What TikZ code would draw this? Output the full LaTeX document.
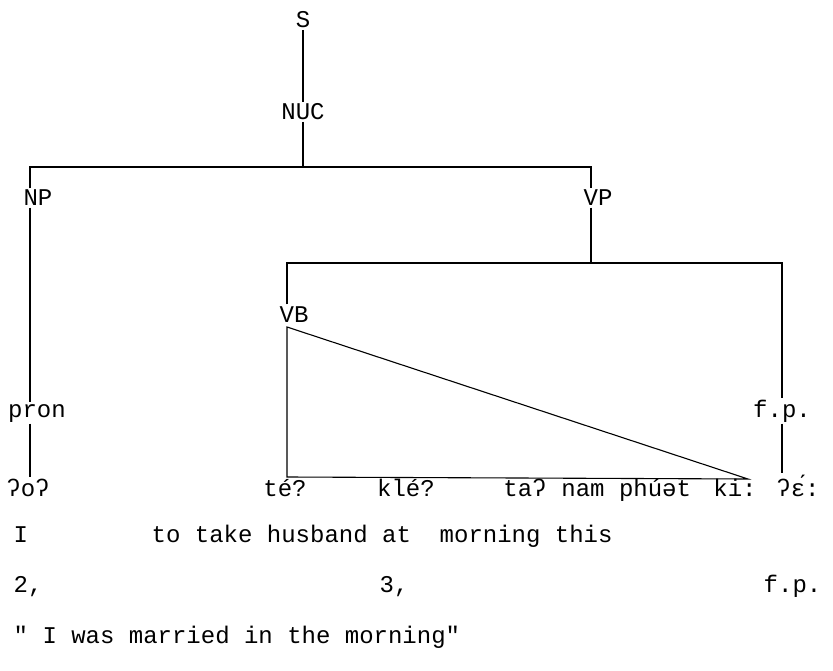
\documentclass[tikz,border=0pt]{standalone}
\usepackage{fontspec}
\setmonofont{Liberation Mono}
\usepackage{tikz}
\usetikzlibrary{positioning}

\begin{document}
\begin{tikzpicture}[x=1pt, y=-1pt,
    % Define styles for the labels and branches
        lab/.style={font=\ttfamily\fontsize{24}{27}\selectfont, inner sep=1.5pt, anchor=base},
        word/.style={lab},
        line/.style={lab, anchor=base west},
        branch/.style={line width=1.1pt}
    ]
        \useasboundingbox (0,0) rectangle (833,671);

        % Define the tree labels
        \node[lab] (s) at (303,28) {S};
        \node[lab] (nuc) at (303,120) {NUC};
        \node[lab] (np) at (38,206) {NP};
        \node[lab] (vp) at (598,206) {VP};
        \node[lab] (vb) at (294,322) {VB};
        \node[lab] (pron) at (37,417) {pron};
        \node[lab] (fp) at (782,417) {f.p.};

        % Define the turning points of the branches
        \coordinate (npturn) at (30,167);
        \coordinate (vpturn) at (591,167);
        \coordinate (vbturn) at (287,263);
        \coordinate (fpturn) at (782,263);
        \coordinate (apex) at (287,327);
        \coordinate (tip) at (748,479);
        \coordinate (foot) at (287,477);

        % Define the words of the sentence
        \node[word] (oo) at (28,496) {ʔoʔ};
        \node[word] (te) at (285,496) {té?};
        \node[word] (kle) at (406,496) {klé?};
        \node[word] (ta) at (525,496) {taʔ};
        \node[word] (nam) at (583,496) {nam};
        \node[word] (phuet) at (655,496) {phúət};
        \node[word] (ki) at (735,496) {ki:};
        \node[word] (ee) at (798,496) {ʔɛ́:};

        % Define the gloss lines
        \node[line] (ipron) at (12,542) {I};
        \node[line] (gloss) at (150,542) {to take husband at\ \ morning this};
        \node[line] (two) at (12,592) {2,};
        \node[line] (three) at (378,592) {3,};
        \node[line] (fpend) at (762,592) {f.p.};
        \node[line] (trans) at (12,643) {" I was married in the morning"};

        % Draw the branches
        \draw[branch] (s) -- (nuc);
        \draw[branch] (nuc.south) -- (nuc.south |- npturn);
        \draw[branch] (np.north -| npturn) -- (npturn) -- (vpturn) -- (vp.north -| vpturn);
        \draw[branch] (np.south -| npturn) -- (pron.north -| npturn);
        \draw[branch] (pron.south -| npturn) -- (oo.north -| npturn);
        \draw[branch] (vp.south -| vpturn) -- (vpturn |- vbturn);
        \draw[branch] (vb.north -| vbturn) -- (vbturn) -- (fpturn) -- (fp.north -| fpturn);
        \draw[branch] (fp.south -| fpturn) -- (ee.north -| fpturn);

        % Draw the triangle over the verb phrase
        \draw[branch] (apex) -- (tip) -- (foot) -- cycle;
    \end{tikzpicture}
\end{document}
